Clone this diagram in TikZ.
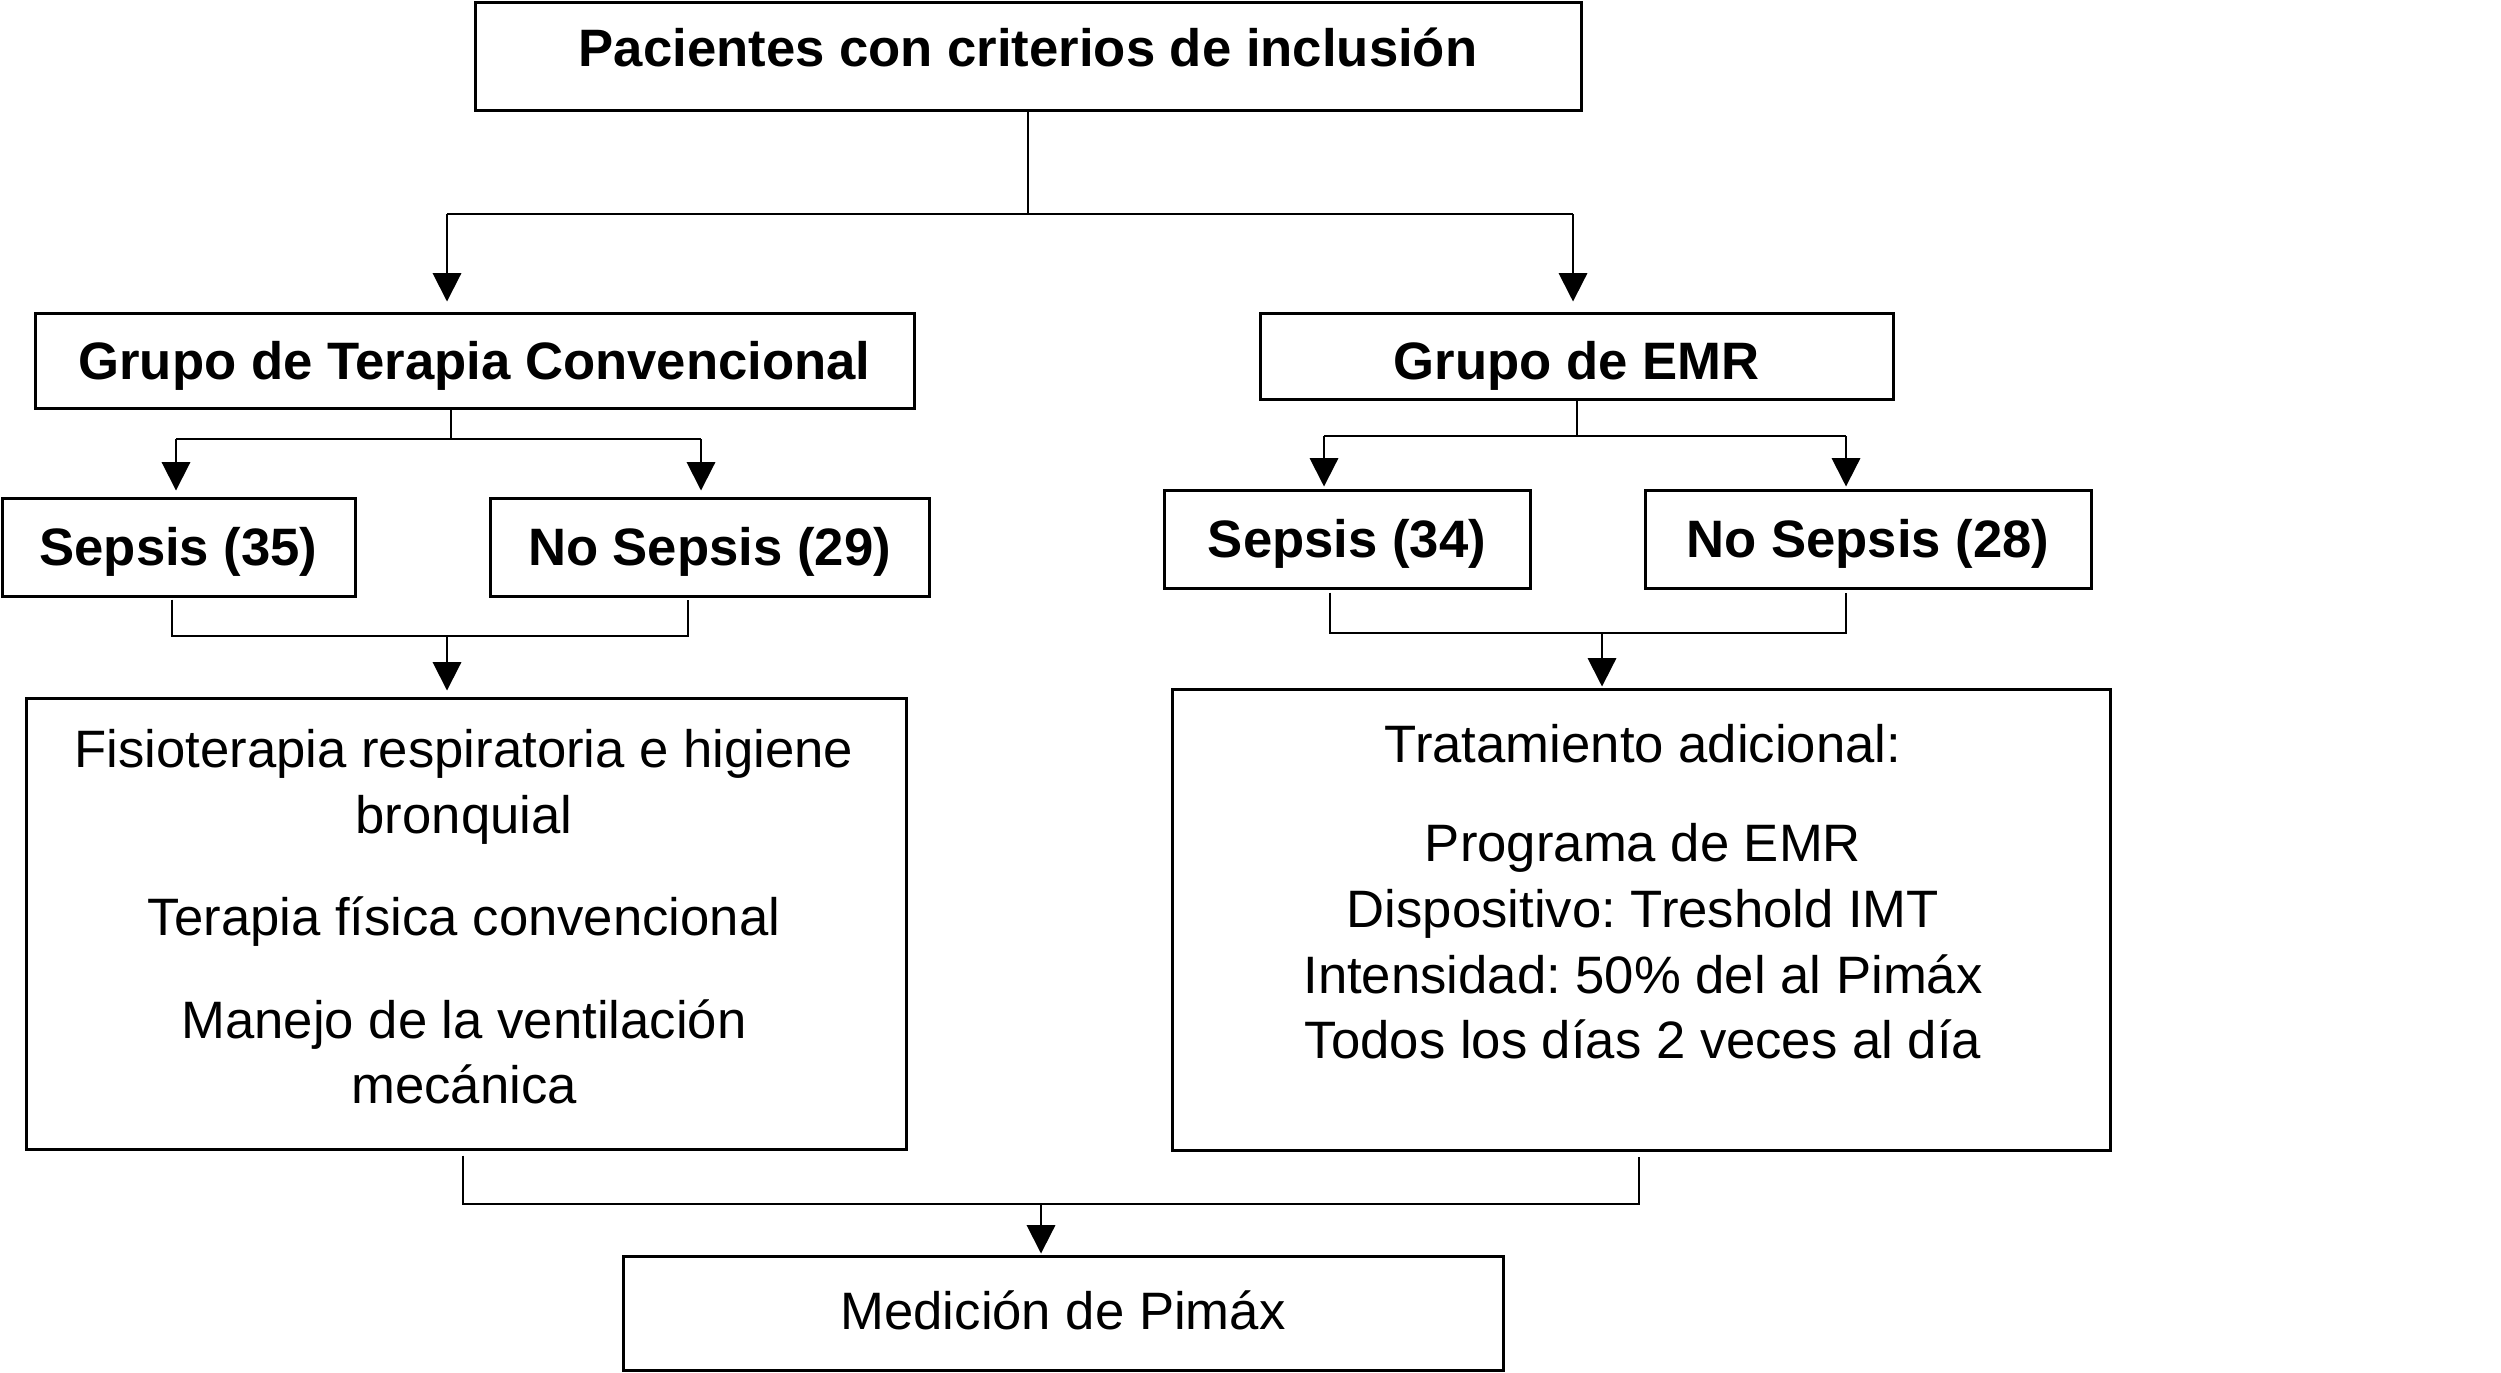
\documentclass[tikz,border=0pt]{standalone}
\usepackage{fontspec}
\setmainfont{Liberation Sans}
\usetikzlibrary{arrows.meta}
\newcommand{\mvtext}[2]{\raisebox{#1}[\height][\depth]{#2}}
\begin{document}
\frenchspacing
\begin{tikzpicture}[x=0.3pt,y=-0.3pt,
  box/.style={draw, line width=0.9pt, inner sep=0pt, font=\fontsize{15.8}{19.7}\selectfont, align=center},
  bbox/.style={box, font=\bfseries\fontsize{15.8}{19.7}\selectfont},
  conn/.style={line width=0.6pt},
  arr/.style={conn, -{Triangle[length=8.5pt,width=8.5pt]}},
  txt/.style={font=\fontsize{15.8}{19.7}\selectfont, align=center, inner sep=0pt}]
\useasboundingbox (0,0) rectangle (2501,1372);

% boxes
\node[bbox, minimum width=331.8pt, minimum height=32.4pt] (top) at (1028,56) {\mvtext{2.7pt}{Pacientes con criterios de inclusión}};
\node[bbox, minimum width=263.7pt, minimum height=28.5pt] (tc) at (474.5,360.5) {\mvtext{-1.5pt}{Grupo de Terapia Convencional}};
\node[bbox, minimum width=189.9pt, minimum height=25.8pt] (emr) at (1576.5,356) {\mvtext{-3pt}{Grupo de EMR}};
\node[bbox, minimum width=105.9pt, minimum height=29.4pt] (s35) at (178.5,547) {\mvtext{-1.5pt}{Sepsis (35)}};
\node[bbox, minimum width=131.7pt, minimum height=29.4pt] (ns29) at (709.5,547) {\mvtext{-1.5pt}{No Sepsis (29)}};
\node[bbox, minimum width=109.8pt, minimum height=29.4pt] (s34) at (1347,539) {\mvtext{-1.5pt}{Sepsis (34)}};
\node[bbox, minimum width=133.8pt, minimum height=29.4pt] (ns28) at (1868,539) {\mvtext{-1.5pt}{No Sepsis (28)}};
\node[box, minimum width=264pt, minimum height=135.3pt] (lbig) at (466,923.5) {};
\node[box, minimum width=281.4pt, minimum height=138.3pt] (rbig) at (1641,919.5) {};
\node[box, minimum width=264pt, minimum height=34.2pt] (bot) at (1063,1313) {\mvtext{0.9pt}{Medición de Pimáx}};

\node[txt] (ltext) at (464,917) {Fisioterapia respiratoria e higiene\\ bronquial\\[11pt] Terapia física convencional\\[11pt] Manejo de la ventilación\\ mecánica};
\node[txt] (rtext) at (1643,892) {Tratamiento adicional:\\[10pt] Programa de EMR\\ Dispositivo: Treshold IMT\\ Intensidad: 50\% del al Pimáx\\ Todos los días 2 veces al día};

% top split
\coordinate (a1) at (447,214);
\coordinate (a2) at (1573,214);
\draw[conn] (top.south) -- (top.south |- a1);
\draw[conn] (a1) -- (a2);
\draw[arr, shorten >=3pt] (a1) -- (a1 |- tc.north);
\draw[arr, shorten >=3pt] (a2) -- (a2 |- emr.north);

% conventional group split
\coordinate (b0) at (451,439);
\coordinate (b1) at (176,439);
\coordinate (b2) at (701,439);
\draw[conn] (b0 |- tc.south) -- (b0);
\draw[conn] (b1) -- (b2);
\draw[arr, shorten >=1.8pt] (b1) -- (b1 |- s35.north);
\draw[arr, shorten >=1.8pt] (b2) -- (b2 |- ns29.north);

% conventional join
\coordinate (c1) at (172,636);
\coordinate (c2) at (688,636);
\coordinate (c0) at (447,636);
\draw[conn, shorten <=0.6pt, shorten >=0.6pt] (c1 |- s35.south) -- (c1) -- (c2) -- (c2 |- ns29.south);
\draw[arr, shorten >=1.8pt] (c0) -- (c0 |- lbig.north);

% EMR split
\coordinate (d0) at (1576,436);
\coordinate (d1) at (1324,436);
\coordinate (d2) at (1846,436);
\draw[conn] (emr.south) -- (emr.south |- d0);
\draw[conn] (d1) -- (d2);
\draw[arr, shorten >=0.6pt] (d1) -- (d1 |- s34.north);
\draw[arr, shorten >=0.6pt] (d2) -- (d2 |- ns28.north);

% EMR join
\coordinate (e1) at (1330,633);
\coordinate (e2) at (1846,633);
\coordinate (e0) at (1602,633);
\draw[conn, shorten <=0.9pt, shorten >=0.9pt] (e1 |- s34.south) -- (e1) -- (e2) -- (e2 |- ns28.south);
\draw[arr, shorten >=0.3pt] (e0) -- (e0 |- rbig.north);

% final join
\coordinate (f1) at (463,1204);
\coordinate (f2) at (1639,1204);
\coordinate (f0) at (1041,1204);
\draw[conn, shorten <=1.5pt, shorten >=1.5pt] (f1 |- lbig.south) -- (f1) -- (f2) -- (f2 |- rbig.south);
\draw[arr, shorten >=0.3pt] (f0) -- (f0 |- bot.north);
\end{tikzpicture}
\end{document}
